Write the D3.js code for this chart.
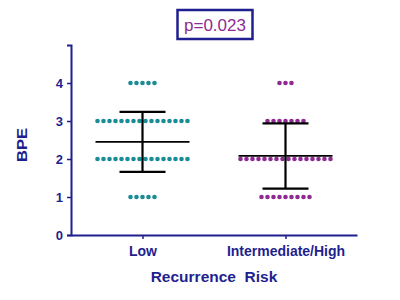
<!DOCTYPE html>
<html>
<head>
	<script src="https://cdn.jsdelivr.net/npm/d3@7"></script>
	<style>
		body { margin: 0; background: #fff; }
		text { font-family: "Liberation Sans", Arial, sans-serif; }
	</style>
</head>
<body>
	<svg id="chart" width="400" height="300"></svg>

	<script>
		// groups and BPE scores (count of patients at each level)
		var groups = ['Low', 'Intermediate/High'];
		var levels = [1, 2, 3, 4];
		var lowCounts = [5, 16, 16, 5];
		var highCounts = [9, 16, 7, 3];
		var means = [2.45, 2.08];
		var sds = [0.79, 0.86];
		var yTicks = [0, 1, 2, 3, 4];
		var pLabel = 'p=0.023';

		var navy = '#1f1f8f';
		var colors = ['#1a8c96', '#8e2a92'];

		var svg = d3.select('#chart');

		var x = d3.scalePoint()
			.domain(groups)
			.range([71, 357])
			.padding(0.5);

		var y = d3.scaleLinear()
			.domain([0, 5])
			.range([235, 45]);

		// y axis
		var yAxis = svg.append('g')
			.attr('transform', 'translate(71,0)')
			.call(d3.axisLeft(y).tickValues(yTicks).tickSize(4).tickSizeOuter(4).tickFormat(d3.format('d')));
		yAxis.select('.domain').attr('stroke', navy).attr('stroke-width', 2);
		yAxis.selectAll('.tick line').attr('stroke', navy).attr('stroke-width', 1.5);
		yAxis.selectAll('.tick text')
			.attr('fill', navy)
			.attr('x', -8)
			.style('font-size', '13px')
			.style('font-weight', 'bold');

		// x axis
		var xAxis = svg.append('g')
			.attr('transform', 'translate(0,235)')
			.call(d3.axisBottom(x).tickSize(4).tickSizeOuter(0));
		xAxis.select('.domain').attr('stroke', navy).attr('stroke-width', 2);
		xAxis.selectAll('.tick line').attr('stroke', navy).attr('stroke-width', 1.5);
		xAxis.selectAll('.tick text')
			.attr('fill', navy)
			.attr('y', 11)
			.style('font-size', '14px')
			.style('font-weight', 'bold');

		// dots
		var spacing = 6;
		var dots = [];
		[lowCounts, highCounts].forEach((counts, g) => {
			counts.forEach((n, i) => {
				for (var k = 0; k < n; k++) {
					dots.push({ group: g, value: levels[i], offset: (k - (n - 1) / 2) * spacing });
				}
			});
		});

		svg.selectAll('circle.dot')
			.data(dots)
			.enter()
			.append('circle')
			.attr('class', 'dot')
			.attr('cx', d => x(groups[d.group]) + d.offset)
			.attr('cy', d => y(d.value))
			.attr('r', 2.3)
			.attr('fill', d => colors[d.group]);

		// mean and SD bars
		var stats = groups.map((g, i) => ({ group: g, mean: means[i], sd: sds[i] }));
		var bars = svg.selectAll('g.bar')
			.data(stats)
			.enter()
			.append('g')
			.attr('class', 'bar')
			.attr('stroke', '#000')
			.attr('stroke-width', 2.2);

		bars.append('line')
			.attr('x1', d => x(d.group) - 47)
			.attr('x2', d => x(d.group) + 47)
			.attr('y1', d => y(d.mean))
			.attr('y2', d => y(d.mean))
			.attr('stroke-width', 1.8);
		bars.append('line')
			.attr('x1', d => x(d.group))
			.attr('x2', d => x(d.group))
			.attr('y1', d => y(d.mean - d.sd))
			.attr('y2', d => y(d.mean + d.sd));
		bars.append('line')
			.attr('x1', d => x(d.group) - 23)
			.attr('x2', d => x(d.group) + 23)
			.attr('y1', d => y(d.mean + d.sd))
			.attr('y2', d => y(d.mean + d.sd));
		bars.append('line')
			.attr('x1', d => x(d.group) - 23)
			.attr('x2', d => x(d.group) + 23)
			.attr('y1', d => y(d.mean - d.sd))
			.attr('y2', d => y(d.mean - d.sd));

		// axis titles
		svg.append('text')
			.attr('x', 214)
			.attr('y', 282)
			.attr('text-anchor', 'middle')
			.attr('fill', navy)
			.style('font-size', '15.5px')
			.style('font-weight', 'bold')
			.style('white-space', 'pre')
			.text('Recurrence  Risk');

		svg.append('text')
			.attr('transform', 'translate(27,145) rotate(-90)')
			.attr('text-anchor', 'middle')
			.attr('fill', navy)
			.attr('textLength', 34)
			.attr('lengthAdjust', 'spacingAndGlyphs')
			.style('font-size', '15px')
			.style('font-weight', 'bold')
			.text('BPE');

		// p value box
		svg.append('rect')
			.attr('x', 177.5)
			.attr('y', 10)
			.attr('width', 75)
			.attr('height', 29)
			.attr('fill', 'none')
			.attr('stroke', navy)
			.attr('stroke-width', 2.5);

		svg.append('text')
			.attr('x', 215)
			.attr('y', 30.5)
			.attr('text-anchor', 'middle')
			.attr('fill', '#8e2a92')
			.style('font-size', '17px')
			.text(pLabel);
	</script>
</body>
</html>
